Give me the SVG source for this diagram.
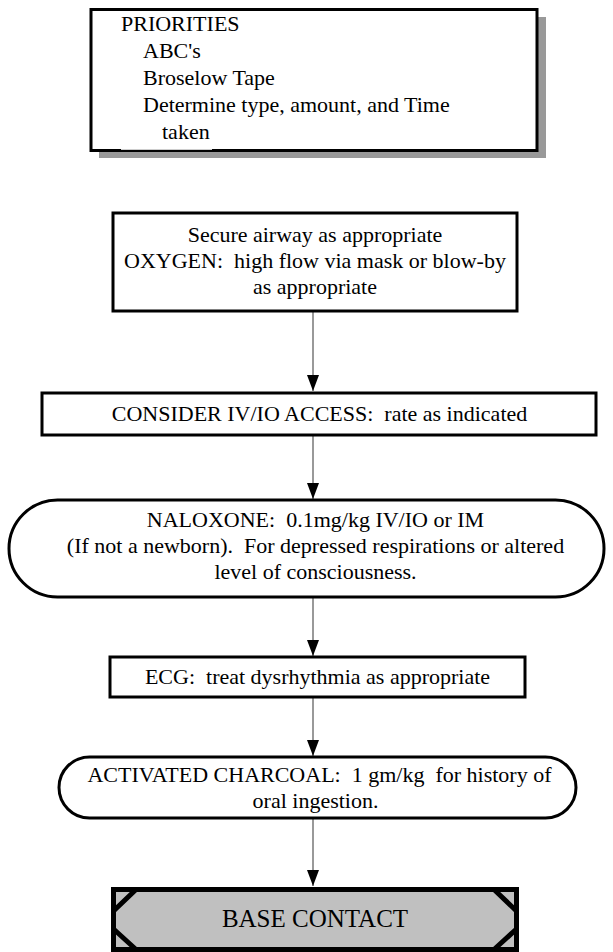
<svg xmlns="http://www.w3.org/2000/svg" width="613" height="952" viewBox="0 0 613 952">
<style>
  .box { fill: #ffffff; stroke: #000000; stroke-width: 3; }
  .t { font-family: "Liberation Serif", "Times New Roman", serif; font-size: 22px; fill: #000000; white-space: pre; }
  .c { text-anchor: middle; }
  .conn { stroke: #555555; stroke-width: 1.2; fill: none; marker-end: url(#arrow); }
</style>
<defs>
  <marker id="arrow" markerUnits="userSpaceOnUse" markerWidth="16" markerHeight="12" refX="16" refY="6" orient="auto" viewBox="0 0 16 12">
    <path d="M0,0 L16,6 L0,12 Z" fill="#000000"/>
  </marker>
</defs>
<rect width="613" height="952" fill="#ffffff"/>

<g id="connectors">
  <line class="conn" x1="313" y1="312" x2="313" y2="391"/>
  <line class="conn" x1="313" y1="435" x2="313" y2="499"/>
  <line class="conn" x1="313" y1="597" x2="313" y2="656"/>
  <line class="conn" x1="313" y1="697" x2="313" y2="756"/>
  <line class="conn" x1="313" y1="818" x2="313" y2="886"/>
</g>

<g id="priorities">
  <rect x="99" y="17" width="447" height="141" fill="#999999"/>
  <rect class="box" x="91" y="9.5" width="446" height="141"/>
  <rect x="121" y="148" width="91" height="1.8" fill="#ffffff"/>
  <text class="t" x="121" y="31">PRIORITIES</text>
  <text class="t" x="143" y="58">ABC's</text>
  <text class="t" x="143" y="85">Broselow Tape</text>
  <text class="t" x="143" y="112">Determine type, amount, and Time</text>
  <text class="t" x="162" y="139">taken</text>
</g>

<g id="airway">
  <rect class="box" x="113" y="213" width="404" height="98"/>
  <text class="t c" x="315" y="242">Secure airway as appropriate</text>
  <text class="t c" x="315" y="268" xml:space="preserve">OXYGEN:  high flow via mask or blow-by</text>
  <text class="t c" x="315" y="294">as appropriate</text>
</g>

<g id="iv">
  <rect class="box" x="42" y="393" width="554" height="42"/>
  <text class="t c" x="319.5" y="421" xml:space="preserve">CONSIDER IV/IO ACCESS:  rate as indicated</text>
</g>

<g id="naloxone">
  <rect class="box" x="9" y="500" width="595" height="97" rx="48.5" ry="48.5"/>
  <text class="t c" x="315.5" y="527" xml:space="preserve">NALOXONE:  0.1mg/kg IV/IO or IM</text>
  <text class="t c" x="315.5" y="553" xml:space="preserve">(If not a newborn).  For depressed respirations or altered</text>
  <text class="t c" x="315.5" y="579">level of consciousness.</text>
</g>

<g id="ecg">
  <rect class="box" x="110" y="657" width="415" height="40"/>
  <text class="t c" x="317.5" y="684" xml:space="preserve">ECG:  treat dysrhythmia as appropriate</text>
</g>

<g id="charcoal">
  <rect class="box" x="59" y="757" width="517" height="61" rx="30.5" ry="30.5"/>
  <text class="t c" x="319.5" y="782" xml:space="preserve">ACTIVATED CHARCOAL:  1 gm/kg  for history of</text>
  <text class="t c" x="315.5" y="808">oral ingestion.</text>
</g>

<g id="base">
  <rect x="113.5" y="889.5" width="403" height="60" fill="#c0c0c0" stroke="#000000" stroke-width="5"/>
  <path d="M136,889.5 L113.5,911 M494,889.5 L516.5,911 M113.5,929 L136,949.5 M516.5,929 L494,949.5" stroke="#000000" stroke-width="5" fill="none"/>
  <text class="t c" x="315" y="927" style="font-size:25px">BASE CONTACT</text>
</g>
</svg>
